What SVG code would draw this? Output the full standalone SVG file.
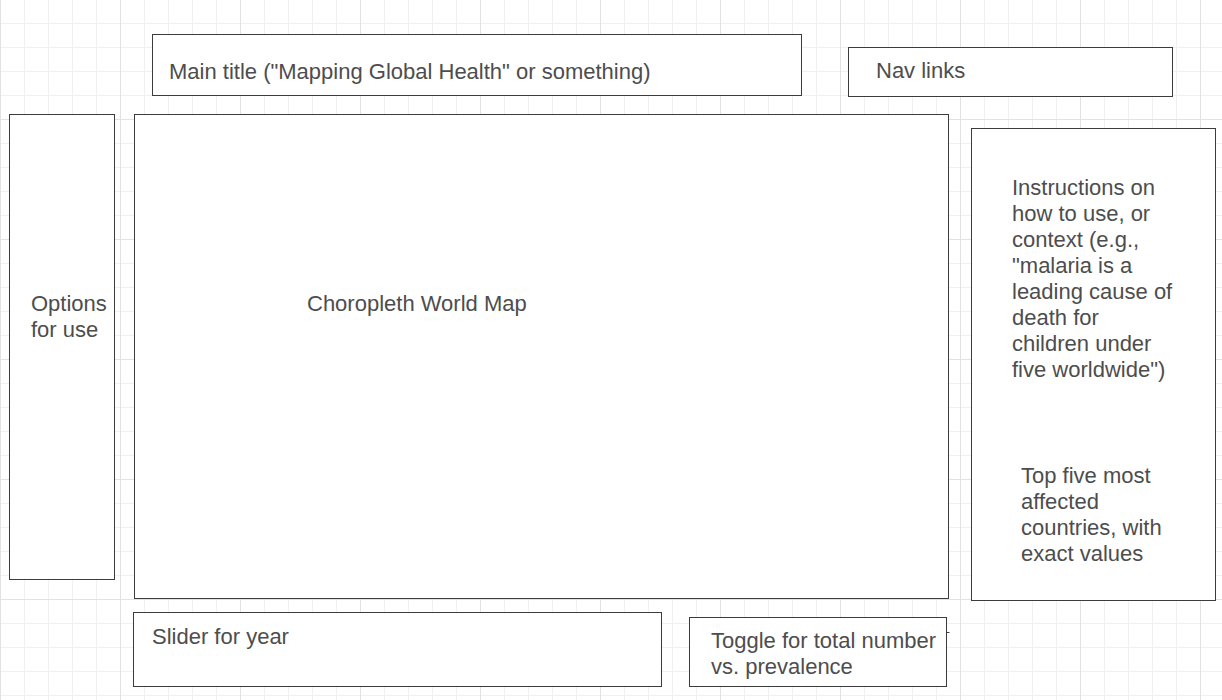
<svg xmlns="http://www.w3.org/2000/svg" width="1222" height="700" viewBox="0 0 1222 700">
<style>
.minor{stroke:#f0f0f0;stroke-width:1;fill:none}
.major{stroke:#e2e2e2;stroke-width:1;fill:none}
.box{fill:#ffffff;stroke:#3c3c3c;stroke-width:1}
.t{font-family:"Liberation Sans",Arial,sans-serif;font-size:22px;fill:#4d4d4d}
</style>
<rect x="0" y="0" width="1222" height="700" fill="#ffffff"/>
<g id="grid">
<path class="minor" d="M24.5 0V700M48.5 0V700M72.5 0V700M96.5 0V700M144.5 0V700M168.5 0V700M192.5 0V700M216.5 0V700M264.5 0V700M288.5 0V700M312.5 0V700M336.5 0V700M384.5 0V700M408.5 0V700M432.5 0V700M456.5 0V700M504.5 0V700M528.5 0V700M552.5 0V700M576.5 0V700M624.5 0V700M648.5 0V700M672.5 0V700M696.5 0V700M744.5 0V700M768.5 0V700M792.5 0V700M816.5 0V700M864.5 0V700M888.5 0V700M912.5 0V700M936.5 0V700M984.5 0V700M1008.5 0V700M1032.5 0V700M1056.5 0V700M1104.5 0V700M1128.5 0V700M1152.5 0V700M1176.5 0V700M0 23.5H1222M0 47.5H1222M0 71.5H1222M0 95.5H1222M0 143.5H1222M0 167.5H1222M0 191.5H1222M0 215.5H1222M0 263.5H1222M0 287.5H1222M0 311.5H1222M0 335.5H1222M0 383.5H1222M0 407.5H1222M0 431.5H1222M0 455.5H1222M0 503.5H1222M0 527.5H1222M0 551.5H1222M0 575.5H1222M0 623.5H1222M0 647.5H1222M0 671.5H1222M0 695.5H1222"/>
<path class="major" d="M0.5 0V700M120.5 0V700M240.5 0V700M360.5 0V700M480.5 0V700M600.5 0V700M720.5 0V700M840.5 0V700M960.5 0V700M1080.5 0V700M1200.5 0V700M0 119.5H1222M0 239.5H1222M0 359.5H1222M0 479.5H1222M0 599.5H1222"/>
</g>
<g id="title">
<rect class="box" x="152.5" y="34.5" width="649" height="61"/>
<text class="t" x="169" y="79">Main title ("Mapping Global Health" or something)</text>
</g>
<g id="nav">
<rect class="box" x="848.5" y="47.5" width="324" height="49"/>
<text class="t" x="876" y="78">Nav links</text>
</g>
<g id="options">
<rect class="box" x="9.5" y="114.5" width="105" height="465"/>
<text class="t" x="31" y="311">Options</text>
<text class="t" x="31" y="337">for use</text>
</g>
<g id="map">
<rect class="box" x="134.5" y="114.5" width="814" height="484"/>
<text class="t" x="307" y="311">Choropleth World Map</text>
</g>
<g id="info">
<rect class="box" x="971.5" y="128.5" width="244" height="472"/>
<text class="t" x="1012" y="195">Instructions on</text>
<text class="t" x="1012" y="221">how to use, or</text>
<text class="t" x="1012" y="247">context (e.g.,</text>
<text class="t" x="1012" y="273">"malaria is a</text>
<text class="t" x="1012" y="299">leading cause of</text>
<text class="t" x="1012" y="325">death for</text>
<text class="t" x="1012" y="351">children under</text>
<text class="t" x="1012" y="377">five worldwide")</text>
<text class="t" x="1021" y="483">Top five most</text>
<text class="t" x="1021" y="509">affected</text>
<text class="t" x="1021" y="535">countries, with</text>
<text class="t" x="1021" y="561">exact values</text>
</g>
<g id="slider">
<rect class="box" x="133.5" y="612.5" width="528" height="74"/>
<text class="t" x="152" y="644">Slider for year</text>
</g>
<g id="toggle">
<rect class="box" x="689.5" y="617.5" width="257" height="69"/>
<text class="t" x="711" y="648">Toggle for total number</text>
<text class="t" x="711" y="674">vs. prevalence</text>
</g>
<g id="connectors">
<path d="M946.5 632.5H949.5" stroke="#3c3c3c" stroke-width="1" fill="none"/>
</g>
</svg>
